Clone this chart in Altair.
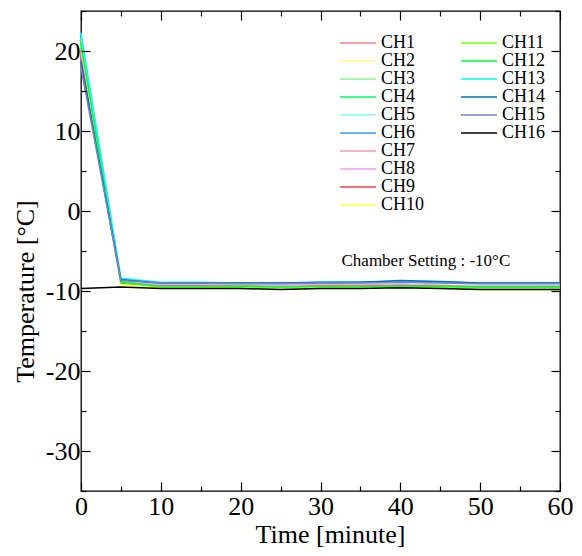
import altair as alt
import pandas as pd

# ---------------- data ----------------
times = [0, 5, 10, 15, 20, 25, 30, 35, 40, 45, 50, 55, 60]

channels_a = ["CH1", "CH2", "CH3", "CH4", "CH5", "CH6", "CH7", "CH8", "CH9", "CH10"]
channels_b = ["CH11", "CH12", "CH13", "CH14", "CH15", "CH16"]

colors_a = ["#FF7F7F", "#FFFF80", "#80FF80", "#00FF66", "#80FFFF",
            "#3399FF", "#FF99BB", "#FF99FF", "#FF4040", "#FFFF33"]
colors_b = ["#80FF00", "#00FF40", "#00FFFF", "#0070C0", "#8080C8", "#000000"]

ch1 = [19.6, -8.9, -9.3, -9.3, -9.3, -9.4, -9.3, -9.3, -9.2, -9.3, -9.4, -9.4, -9.4]
ch2 = [20.6, -9.1, -9.5, -9.5, -9.5, -9.6, -9.5, -9.5, -9.4, -9.5, -9.7, -9.7, -9.7]
ch3 = [20.9, -8.8, -9.3, -9.3, -9.3, -9.3, -9.3, -9.2, -9.2, -9.3, -9.4, -9.4, -9.4]
ch4 = [21.0, -8.9, -9.4, -9.4, -9.4, -9.4, -9.4, -9.4, -9.3, -9.4, -9.5, -9.5, -9.5]
ch5 = [21.6, -8.5, -9.0, -9.0, -9.0, -9.1, -9.0, -9.0, -8.9, -9.0, -9.1, -9.1, -9.1]
ch6 = [19.1, -8.6, -9.0, -9.0, -9.0, -9.0, -9.0, -8.9, -8.8, -8.9, -9.0, -9.0, -9.0]
ch7 = [19.9, -9.0, -9.3, -9.3, -9.4, -9.4, -9.3, -9.3, -9.3, -9.4, -9.5, -9.5, -9.5]
ch8 = [20.3, -8.9, -9.2, -9.2, -9.3, -9.3, -9.2, -9.2, -9.2, -9.3, -9.4, -9.4, -9.4]
ch9 = [18.9, -9.0, -9.4, -9.4, -9.4, -9.5, -9.4, -9.4, -9.3, -9.4, -9.5, -9.5, -9.5]
ch10 = [20.7, -9.2, -9.6, -9.6, -9.6, -9.7, -9.6, -9.6, -9.5, -9.6, -9.8, -9.8, -9.8]
ch11 = [21.2, -8.9, -9.5, -9.5, -9.5, -9.5, -9.5, -9.5, -9.4, -9.5, -9.6, -9.6, -9.6]
ch12 = [20.9, -8.9, -9.4, -9.4, -9.4, -9.5, -9.4, -9.4, -9.4, -9.4, -9.5, -9.5, -9.5]
ch13 = [22.3, -8.4, -8.9, -8.9, -9.0, -9.0, -8.9, -8.9, -8.9, -8.9, -9.0, -9.0, -9.0]
ch14 = [18.6, -8.6, -9.0, -9.0, -9.0, -9.0, -8.9, -8.9, -8.7, -8.8, -9.0, -9.0, -9.0]
ch15 = [17.9, -8.7, -9.0, -9.0, -9.1, -9.1, -9.0, -9.0, -8.9, -9.0, -9.1, -9.1, -9.1]
ch16 = [-9.7, -9.5, -9.7, -9.7, -9.7, -9.8, -9.7, -9.7, -9.6, -9.7, -9.8, -9.8, -9.8]

series_a = [ch1, ch2, ch3, ch4, ch5, ch6, ch7, ch8, ch9, ch10]
series_b = [ch11, ch12, ch13, ch14, ch15, ch16]

x_major = [0, 10, 20, 30, 40, 50, 60]
x_minor = [5, 15, 25, 35, 45, 55]
y_major = [-30, -20, -10, 0, 10, 20]
y_minor = [-35, -25, -15, -5, 5, 15, 25]

annot_text = ["Chamber Setting : -10°C"]
annot_x = [43.2]
annot_y = [-6.2]

# ---------------- tables ----------------
def long_table(names, series):
    rows = []
    for name, vals in zip(names, series):
        for t, v in zip(times, vals):
            rows.append({"time": t, "temp": v, "ch": name})
    return pd.DataFrame(rows)

df_a = long_table(channels_a, series_a)
df_b = long_table(channels_b, series_b)
df_t = pd.DataFrame({"time": annot_x, "temp": annot_y, "label": annot_text})

FONT = "Liberation Serif"
xscale = alt.Scale(domain=[0, 60], nice=False, zero=False)
yscale = alt.Scale(domain=[-35, 25], nice=False, zero=False)

common_axis = dict(domain=False, grid=False, ticks=True, tickColor="black",
                   tickWidth=1.2, tickOpacity=1, zindex=2)

ax_bottom_major = alt.Axis(orient="bottom", values=x_major, offset=-9, tickSize=9,
                           labelFont=FONT, labelFontSize=26, labelColor="black",
                           labelPadding=2, labelFlush=False, labelOverlap=False,
                           title="Time [minute]", titleFont=FONT, titleFontSize=26,
                           titleFontWeight="normal", titleColor="black", titlePadding=2,
                           titleX=249,
                           **common_axis)
ax_left_major = alt.Axis(orient="left", values=y_major, offset=-9, tickSize=9,
                         labelFont=FONT, labelFontSize=26, labelColor="black",
                         labelPadding=1, labelOverlap=False,
                         labelExpr="'' + datum.value",
                         title="Temperature [°C]", titleFont=FONT, titleFontSize=26,
                         titleFontWeight="normal", titleColor="black", titlePadding=7,
                         titleY=280,
                         **common_axis)
ax_bottom_minor = alt.Axis(orient="bottom", values=x_minor, offset=-5, tickSize=5,
                           labels=False, title=None, **common_axis)
ax_left_minor = alt.Axis(orient="left", values=y_minor, offset=-5, tickSize=5,
                         labels=False, title=None, **common_axis)
ax_top_major = alt.Axis(orient="top", values=x_major, offset=-9, tickSize=9,
                        labels=False, title=None, **common_axis)
ax_right_major = alt.Axis(orient="right", values=y_major, offset=-9, tickSize=9,
                          labels=False, title=None, **common_axis)
ax_top_minor = alt.Axis(orient="top", values=x_minor, offset=-5, tickSize=5,
                        labels=False, title=None, **common_axis)
ax_right_minor = alt.Axis(orient="right", values=y_minor, offset=-5, tickSize=5,
                          labels=False, title=None, **common_axis)

legend_common = dict(orient="none", direction="vertical", title=None,
                     symbolType="stroke", symbolSize=1296, symbolStrokeWidth=1.5,
                     labelFont=FONT, labelFontSize=18, labelColor="black",
                     labelOffset=4, rowPadding=0, padding=0, labelLimit=200,
                     clipHeight=18)

lines_a = alt.Chart(df_a).mark_line(strokeWidth=1.5).encode(
    x=alt.X("time:Q", scale=xscale, axis=ax_bottom_major),
    y=alt.Y("temp:Q", scale=yscale, axis=ax_left_major),
    color=alt.Color("ch:N", scale=alt.Scale(domain=channels_a, range=colors_a),
                    legend=alt.Legend(legendX=258, legendY=23, **legend_common)),
)

lines_b = alt.Chart(df_b).mark_line(strokeWidth=1.5).encode(
    x=alt.X("time:Q", scale=xscale, axis=ax_bottom_minor),
    y=alt.Y("temp:Q", scale=yscale, axis=ax_left_minor),
    color=alt.Color("ch:N", scale=alt.Scale(domain=channels_b, range=colors_b),
                    legend=alt.Legend(legendX=379, legendY=23, **legend_common)),
)

text = alt.Chart(df_t).mark_text(font=FONT, fontSize=17, color="black",
                                 align="center", baseline="middle").encode(
    x=alt.X("time:Q", scale=xscale, axis=ax_top_major),
    y=alt.Y("temp:Q", scale=yscale, axis=ax_right_major),
    text="label:N",
)

ghost = alt.Chart(df_t).mark_point(opacity=0).encode(
    x=alt.X("time:Q", scale=xscale, axis=ax_top_minor),
    y=alt.Y("temp:Q", scale=yscale, axis=ax_right_minor),
)

chart = alt.layer(lines_a, lines_b, text, ghost).resolve_scale(
    color="independent"
).resolve_axis(
    x="independent", y="independent"
).properties(
    width=479, height=480,
    autosize=alt.AutoSizeParams(type="none"),
    padding={"left": 73, "top": 3, "right": 13, "bottom": 58},
    background="white",
).configure_view(
    stroke="black", strokeWidth=1.3
)

chart.save("out.html", embed_options={"renderer": "svg", "actions": False})
